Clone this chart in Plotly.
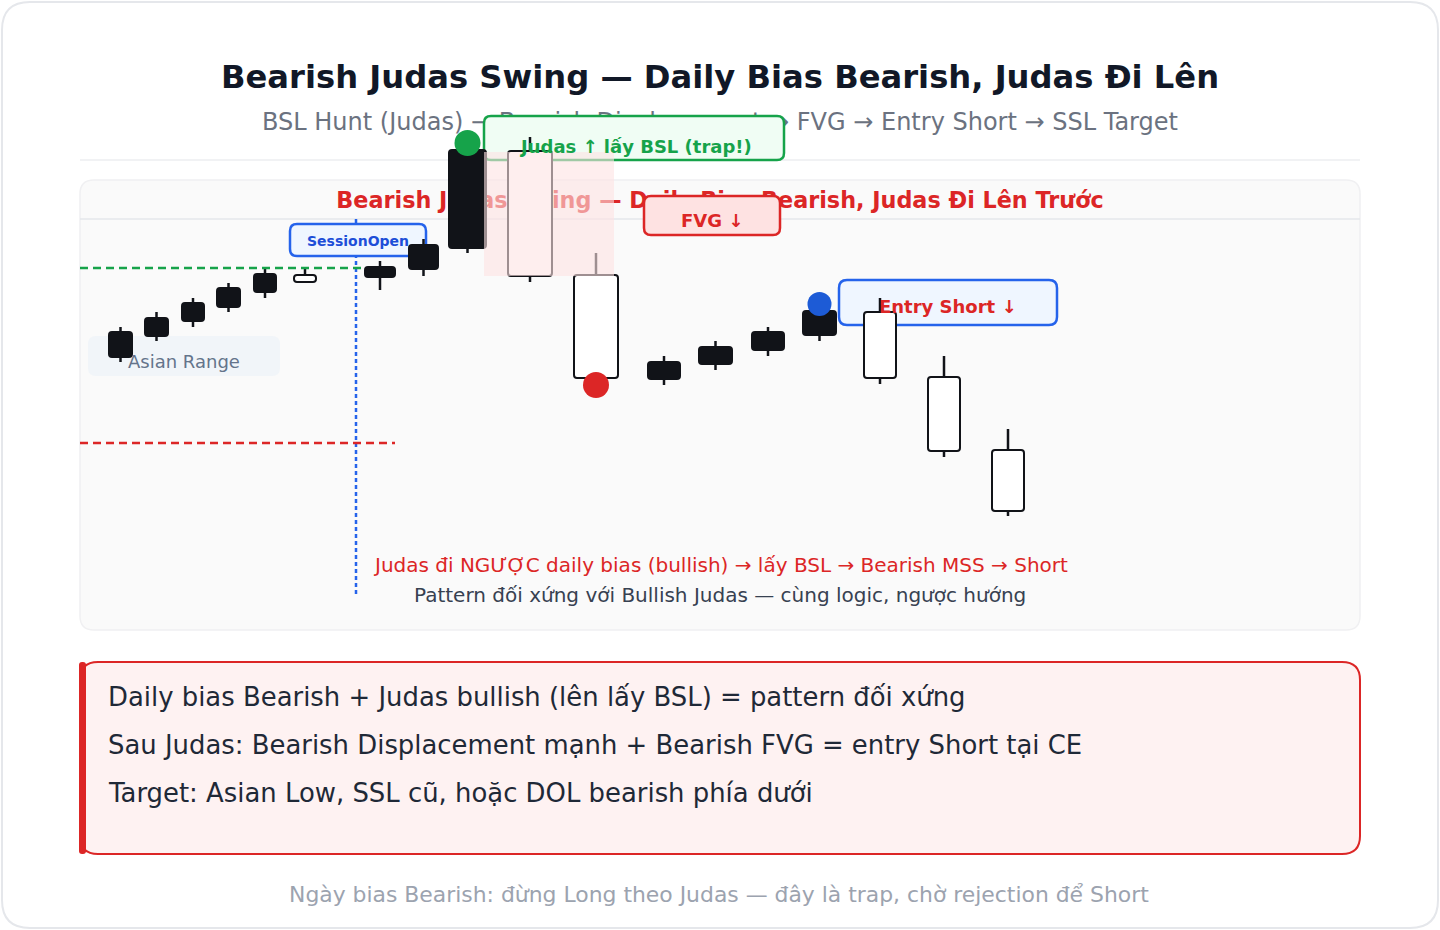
import plotly.graph_objects as go

# ---------------- data ----------------
times = [4.05, 7.65, 11.3, 14.85, 18.5, 22.5, 30.0, 34.35, 38.75, 45.0,
         51.6, 58.4, 63.55, 68.8, 73.95, 80.0, 86.4, 92.8]
opens = [154.6, 158.8, 161.8, 164.6, 167.6, 171.0, 170.6, 172.2, 176.4, 195.8,
         171.0, 150.2, 153.2, 156.0, 159.0, 163.6, 150.6, 136.0]
highs = [160.6, 163.6, 166.4, 169.4, 172.4, 172.4, 173.8, 178.2, 197.4, 198.6,
         175.4, 154.8, 157.8, 160.6, 165.2, 166.4, 154.8, 140.2]
lows = [153.6, 157.8, 160.6, 163.6, 166.4, 169.6, 168.0, 170.8, 175.4, 169.6,
        149.0, 149.0, 152.0, 154.8, 157.8, 149.2, 134.6, 122.8]
closes = [159.6, 162.4, 165.4, 168.4, 171.2, 169.6, 172.6, 177.0, 196.0, 170.8,
          150.4, 153.6, 156.6, 159.6, 163.8, 150.4, 135.8, 123.8]

bsl_level = 172.4
bsl_span = [0, 28.5]
ssl_level = 137.4
ssl_span = [0, 31.5]
session_open_time = 27.6
fvg_time = [40.4, 53.4]
fvg_zone = [170.8, 195.6]
judas_high = [38.75, 197.4]
displacement_low = [51.6, 149.0]
entry_point = [73.95, 165.2]

title = "Bearish Judas Swing — Daily Bias Bearish, Judas Đi Lên"
subtitle = "BSL Hunt (Judas) → Bearish Displacement → FVG → Entry Short → SSL Target"
panel_title = "Bearish Judas Swing — Daily Bias Bearish, Judas Đi Lên Trước"
note_1 = "Judas đi NGƯỢC daily bias (bullish) → lấy BSL → Bearish MSS → Short"
note_2 = "Pattern đối xứng với Bullish Judas — cùng logic, ngược hướng"
info_lines = [
    "Daily bias Bearish + Judas bullish (lên lấy BSL) = pattern đối xứng",
    "Sau Judas: Bearish Displacement mạnh + Bearish FVG = entry Short tại CE",
    "Target: Asian Low, SSL cũ, hoặc DOL bearish phía dưới",
]
footer = "Ngày bias Bearish: đừng Long theo Judas — đây là trap, chờ rejection để Short"

# ---------------- styles / layout geometry ----------------
body_widths = [2.3, 2.3, 2.2, 2.3, 2.2, 2.2, 3.0, 2.9, 3.7, 4.4,
               4.4, 3.2, 3.3, 3.2, 3.3, 3.2, 3.2, 3.2]
FONT = "DejaVu Sans"
DARK = "#111318"
GREEN = "#16a34a"
RED = "#dc2626"
BLUE = "#2563eb"
W, H = 1440, 930
PL, PR, PT, PB = 80, 1360, 100, 630
XR = [0, 128]
YR = [100, 206]


def dx(p):
    return XR[0] + (p - PL) * (XR[1] - XR[0]) / (PR - PL)


def dy(p):
    return YR[0] + (PB - p) * (YR[1] - YR[0]) / (PB - PT)


def ident(v):
    return v


def rrect(x0, y0, x1, y1, r, fx=ident, fy=ident):
    return (f"M {fx(x0 + r)},{fy(y0)} L {fx(x1 - r)},{fy(y0)} "
            f"Q {fx(x1)},{fy(y0)} {fx(x1)},{fy(y0 + r)} "
            f"L {fx(x1)},{fy(y1 - r)} Q {fx(x1)},{fy(y1)} {fx(x1 - r)},{fy(y1)} "
            f"L {fx(x0 + r)},{fy(y1)} Q {fx(x0)},{fy(y1)} {fx(x0)},{fy(y1 - r)} "
            f"L {fx(x0)},{fy(y0 + r)} Q {fx(x0)},{fy(y0)} {fx(x0 + r)},{fy(y0)} Z")


fig = go.Figure()

# page-level text that sits beneath boxes/candles
fig.add_trace(go.Scatter(x=[720], y=[124], mode="text", text=[subtitle],
                         textfont=dict(family=FONT, size=24, color="#6b7280"),
                         hoverinfo="skip", showlegend=False, xaxis="x", yaxis="y"))
fig.add_trace(go.Scatter(x=[720], y=[202], mode="text", text=[f"<b>{panel_title}</b>"],
                         textfont=dict(family=FONT, size=22.3, color=RED),
                         hoverinfo="skip", showlegend=False, xaxis="x", yaxis="y"))

# candles
fills = [DARK if c > o else "#ffffff" for o, c in zip(opens, closes)]
fig.add_trace(go.Bar(x=times, y=[c - o for o, c in zip(opens, closes)], base=opens,
                     width=body_widths,
                     marker=dict(color=fills, line=dict(color=DARK, width=2), cornerradius=3),
                     hoverinfo="skip", showlegend=False, xaxis="x2", yaxis="y2"))
wx, wy = [], []
for t, o, h, l, c in zip(times, opens, highs, lows, closes):
    top, bot = max(o, c), min(o, c)
    if h > top:
        wx += [t, t, None]
        wy += [top, h, None]
    if l < bot:
        wx += [t, t, None]
        wy += [l, bot, None]
fig.add_trace(go.Scatter(x=wx, y=wy, mode="lines", line=dict(color=DARK, width=2.5),
                         hoverinfo="skip", showlegend=False, xaxis="x2", yaxis="y2"))

# liquidity levels
fig.add_trace(go.Scatter(x=bsl_span, y=[bsl_level, bsl_level], mode="lines",
                         line=dict(color=GREEN, width=2.5, dash="8px,5px"),
                         hoverinfo="skip", showlegend=False, xaxis="x2", yaxis="y2"))
fig.add_trace(go.Scatter(x=ssl_span, y=[ssl_level, ssl_level], mode="lines",
                         line=dict(color=RED, width=2.5, dash="8px,5px"),
                         hoverinfo="skip", showlegend=False, xaxis="x2", yaxis="y2"))

# key points
fig.add_trace(go.Scatter(x=[judas_high[0], displacement_low[0], entry_point[0]],
                         y=[judas_high[1], displacement_low[1], entry_point[1]],
                         mode="markers",
                         marker=dict(size=[26, 26, 24], color=[GREEN, RED, "#1d5bd6"],
                                     opacity=1, line=dict(width=0)),
                         hoverinfo="skip", showlegend=False, cliponaxis=False,
                         xaxis="x2", yaxis="y2"))

shapes = []
# page decorations (under everything)
shapes.append(dict(type="path", path=rrect(2, 2, 1438, 928, 28), xref="x", yref="y",
                   fillcolor="#ffffff", line=dict(color="#e5e7eb", width=2), layer="below"))
shapes.append(dict(type="line", x0=80, x1=1360, y0=160, y1=160, xref="x", yref="y",
                   line=dict(color="#f1f2f4", width=2), layer="below"))
shapes.append(dict(type="path", path=rrect(80, 180, 1360, 630, 14), xref="x", yref="y",
                   fillcolor="#fafafa", line=dict(color="#f0f0f2", width=1.5), layer="below"))
shapes.append(dict(type="line", x0=80, x1=1360, y0=219, y1=219, xref="x", yref="y",
                   line=dict(color="#e5e7eb", width=1.5), layer="below"))
shapes.append(dict(type="path", path=rrect(80, 662, 1360, 854, 18), xref="x", yref="y",
                   fillcolor="#fef2f2", line=dict(color=RED, width=2), layer="below"))
shapes.append(dict(type="path", path=rrect(79, 662, 86, 854, 3), xref="x", yref="y",
                   fillcolor=RED, line=dict(width=0), layer="below"))

# boxes in chart layer (beneath candles, above page text)
shapes.append(dict(type="path", path=rrect(88, 336, 280, 376, 8, dx, dy), xref="x2", yref="y2",
                   fillcolor="#f1f5f9", line=dict(width=0), layer="below"))
shapes.append(dict(type="line", x0=session_open_time, x1=session_open_time, y0=dy(219), y1=dy(595),
                   xref="x2", yref="y2", line=dict(color=BLUE, width=2.5, dash="4px,3px"),
                   layer="below"))
shapes.append(dict(type="path", path=rrect(290, 224, 426, 256, 7, dx, dy), xref="x2", yref="y2",
                   fillcolor="#eff6ff", line=dict(color=BLUE, width=2.5), layer="below"))
shapes.append(dict(type="path", path=rrect(484, 116, 784, 160, 7, dx, dy), xref="x2", yref="y2",
                   fillcolor="#f0fdf4", line=dict(color=GREEN, width=2.5), layer="below"))
shapes.append(dict(type="path", path=rrect(839, 280, 1057, 325, 8, dx, dy), xref="x2", yref="y2",
                   fillcolor="#eff6ff", line=dict(color=BLUE, width=2.5), layer="below"))

# FVG zone and label (above candles)
shapes.append(dict(type="rect", x0=fvg_time[0], x1=fvg_time[1], y0=fvg_zone[0], y1=fvg_zone[1],
                   xref="x2", yref="y2", fillcolor="rgba(254,226,226,0.6)", line=dict(width=0),
                   layer="above"))
shapes.append(dict(type="path", path=rrect(644, 196, 780, 235, 7), xref="x", yref="y",
                   fillcolor="#fee2e2", line=dict(color=RED, width=2.5), layer="above"))


def ann(x, y, text, size, color, anchor="center"):
    return dict(x=x, y=y, xref="x", yref="y", text=text, showarrow=False,
                xanchor=anchor, yanchor="middle",
                font=dict(family=FONT, size=size, color=color))


annotations = [
    ann(720, 77, f"<b>{title}</b>", 32.2, "#111827"),
    ann(184, 361, "Asian Range", 18, "#64748b"),
    ann(358, 241, "<b>SessionOpen</b>", 14, "#1d4ed8"),
    ann(635, 146, "<b>Judas ↑ lấy BSL (trap!)</b>", 18, GREEN),
    ann(712, 220, "<b>FVG ↓</b>", 18, RED),
    ann(948, 306, "<b>Entry Short ↓</b>", 18, RED),
    ann(720, 565, note_1, 20, RED),
    ann(720, 595, note_2, 20, "#374151"),
    ann(719, 894, footer, 21.9, "#9ca3af"),
]
for i, line in enumerate(info_lines):
    annotations.append(ann(106, 697 + 48 * i, line, 25.9, "#1f2937", anchor="left"))

fig.update_layout(
    width=W, height=H, margin=dict(l=0, r=0, t=0, b=0),
    paper_bgcolor="#ffffff", plot_bgcolor="rgba(0,0,0,0)",
    showlegend=False, hovermode=False, barmode="overlay",
    xaxis=dict(domain=[0, 1], range=[0, W], visible=False, fixedrange=True),
    yaxis=dict(domain=[0, 1], range=[H, 0], visible=False, fixedrange=True),
    xaxis2=dict(domain=[PL / W, PR / W], range=XR, visible=False, anchor="y2", fixedrange=True),
    yaxis2=dict(domain=[(H - PB) / H, (H - PT) / H], range=YR, visible=False, anchor="x2",
                fixedrange=True),
    shapes=shapes, annotations=annotations,
)

fig.write_html("out.html", config={"displayModeBar": False})
